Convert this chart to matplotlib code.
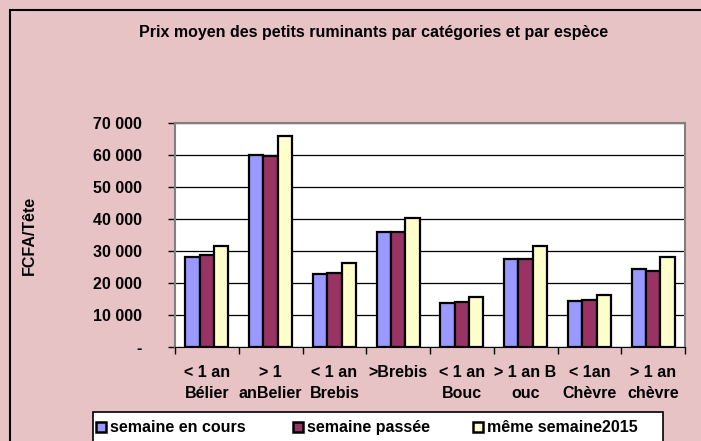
import numpy as np
import matplotlib.pyplot as plt
from matplotlib.patches import Rectangle

plt.rcParams['font.family'] = ['Liberation Sans', 'DejaVu Sans']
plt.rcParams['font.weight'] = 'bold'

# Data
categories = ['< 1 an\nBélier', '> 1\nanBelier', '< 1 an\nBrebis', '>Brebis\n',
              '< 1 an\nBouc', '> 1 an B\nouc', '< 1an\nChèvre', '> 1 an\nchèvre']
semaine_en_cours = [28000, 59900, 22900, 36000, 13750, 27400, 14500, 24400]
semaine_passee = [28900, 59600, 23200, 35800, 14100, 27400, 14700, 23750]
meme_semaine_2015 = [31500, 65800, 26300, 40400, 15600, 31700, 16100, 28200]
series_names = ['semaine en cours', 'semaine passée', 'même semaine2015']
colors = ['#9999ff', '#993366', '#ffffcc']

W, H = 701, 441
fig = plt.figure(figsize=(W / 100, H / 100), dpi=100)
fig.patch.set_facecolor('#e8c3c6')

# outer frame (runs off the right and bottom edges)
fig.add_artist(Rectangle((10 / W, -0.05), 1.0, 1 - 10 / H + 0.05,
                         transform=fig.transFigure, fill=False,
                         edgecolor='black', linewidth=1.5))

ax = fig.add_axes([175 / W, 1 - 347 / H, 510 / W, 224 / H])
ax.set_facecolor('white')

x = np.arange(len(categories))
w = 0.225
for i, (vals, c) in enumerate(zip([semaine_en_cours, semaine_passee, meme_semaine_2015], colors)):
    ax.bar(x + (i - 1) * w, vals, w, color=c, edgecolor='black', linewidth=1.6, zorder=3)

ax.set_xlim(-0.5, len(categories) - 0.5)
ax.set_ylim(0, 70000)
yt = np.arange(0, 70001, 10000)
ax.set_yticks(yt)
ax.set_yticklabels(['-'] + [f'{v // 1000} 000' for v in yt[1:]], fontsize=11.5, fontweight='bold')
ax.yaxis.grid(True, color='black', linewidth=0.9, zorder=0)

ax.set_xticks(x)
ax.set_xticklabels(categories, fontsize=11.5, fontweight='bold', linespacing=1.5)
ax.set_xticks(np.arange(-0.5, len(categories)), minor=True)
ax.tick_params(axis='x', which='major', length=0, pad=13)
ax.tick_params(axis='x', which='minor', length=5, width=1, direction='out')
ax.tick_params(axis='y', length=5, width=1, direction='out', pad=19)

for s in ['top', 'right', 'left']:
    ax.spines[s].set_color('#808080')
    ax.spines[s].set_linewidth(1.5)
ax.spines['bottom'].set_color('black')

fig.text(29 / W, 1 - 235 / H, 'FCFA/Tête', rotation=90, ha='center', va='center',
         fontsize=11.5, fontweight='bold')
fig.text(374 / W, 1 - 32 / H, 'Prix moyen des petits ruminants par catégories et par espèce',
         ha='center', va='center', fontsize=11.5, fontweight='bold')

# legend box (runs off the bottom edge), entries drawn by hand so baselines line up
fig.add_artist(Rectangle((93 / W, -0.05), 570 / W, 1 - 412 / H + 0.05,
                         transform=fig.transFigure, facecolor='white',
                         edgecolor='black', linewidth=1.2, zorder=4))
entry_x = [96, 293, 473]
for ex, name, c in zip(entry_x, series_names, colors):
    fig.add_artist(Rectangle((ex / W, 1 - 432 / H), 10 / W, 10 / H,
                             transform=fig.transFigure, facecolor=c,
                             edgecolor='black', linewidth=1.8, zorder=5))
    fig.text((ex + 14) / W, 1 - 432 / H, name, ha='left', va='baseline',
             fontsize=11.5, fontweight='bold', zorder=6)

fig.savefig('out.png', dpi=100, facecolor=fig.get_facecolor())
